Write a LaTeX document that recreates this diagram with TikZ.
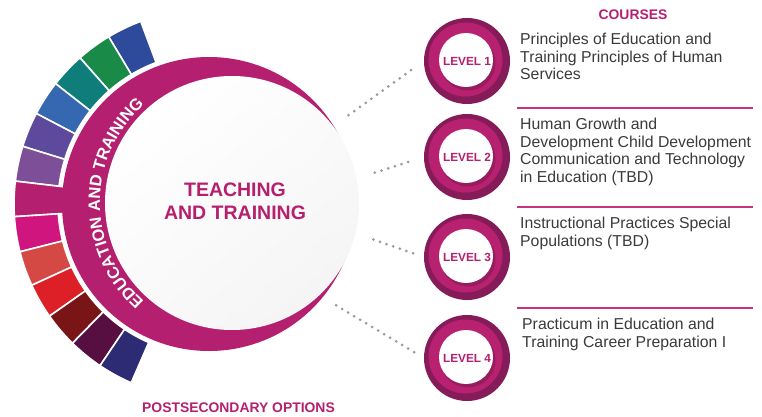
\documentclass[tikz,border=0pt]{standalone}
\usepackage{fontspec}
\setmainfont{Liberation Sans}
\usetikzlibrary{decorations.text}

\definecolor{edumag}{HTML}{B51F6F}
\definecolor{lvdark}{HTML}{861B5A}
\definecolor{lvmid}{HTML}{B8216F}
\definecolor{dotgray}{HTML}{9A9A9A}
\definecolor{txtgray}{HTML}{3A3A3A}
\definecolor{rulemag}{HTML}{C8337D}
\definecolor{seg1}{HTML}{2E4A9B}
\definecolor{seg2}{HTML}{1A8A48}
\definecolor{seg3}{HTML}{0F7E7B}
\definecolor{seg4}{HTML}{3668B2}
\definecolor{seg5}{HTML}{5E4A9D}
\definecolor{seg6}{HTML}{7D4F99}
\definecolor{seg7}{HTML}{B51F6F}
\definecolor{seg8}{HTML}{D0167E}
\definecolor{seg9}{HTML}{D54944}
\definecolor{seg10}{HTML}{DD2027}
\definecolor{seg11}{HTML}{7A1517}
\definecolor{seg12}{HTML}{560F40}
\definecolor{seg13}{HTML}{2C2B73}

\tikzset{
  lvring/.style={circle, minimum size=86pt, inner sep=0pt, fill=lvdark,
    font=\bfseries\fontsize{11.8}{13}\selectfont, text=edumag,
    path picture={
      \fill[lvmid] ([shift={(-1.5,1.5)}]path picture bounding box.center) circle (37);
      \fill[lvdark!80!black, opacity=.45] ([shift={(1,-2)}]path picture bounding box.center) circle (27.5);
      \fill[white] ([shift={(-1,1)}]path picture bounding box.center) circle (27);
    }},
  course/.style={anchor=north west, align=left, inner sep=0pt,
    font=\fontsize{15.8}{17.5}\selectfont, text=txtgray},
  dotline/.style={draw=dotgray, line width=3pt, line cap=round,
    dash pattern=on 0pt off 7pt, shorten >=10pt},
  sepline/.style={draw=rulemag, line width=1.4pt},
  heading/.style={font=\bfseries\fontsize{13.9}{16}\selectfont, text=edumag}
}

\begin{document}
\begin{tikzpicture}[x=1pt,y=1pt]
\useasboundingbox (0,0) rectangle (762,416);

%Shape: colour arc
\foreach \k in {1,...,13}{
  \pgfmathsetmacro\sa{110.5+(\k-1)*10.46}
  \pgfmathsetmacro\sb{\sa+10.46}
  \ifnum\k=7 \def\rin{144}\else\def\rin{151}\fi
  \filldraw[fill=seg\k, draw=white, line width=1.6pt]
    ([shift={(209,212)}]\sa:\rin) arc[start angle=\sa, end angle=\sb, radius=\rin]
    -- ([shift={(209,212)}]\sb:195) arc[start angle=\sb, end angle=\sa, radius=195] -- cycle;
}

%Shape: magenta band
\fill[edumag] (209,212) circle (147);
%Shape: white hub
\node[circle, minimum size=254pt, inner sep=0pt, shade, top color=white,
  bottom color=black!4, shading angle=40] (hub) at (232,213) {};

% Text along the band
\path[decorate, decoration={text along path, text align=center, text color=white,
    text={|\bfseries\fontsize{16.5}{18}\selectfont|EDUCATION AND TRAINING}}]
  ([shift={(236:132)}]hub.center) arc[start angle=236, end angle=124, radius=132];

% Text Node
\node[font=\bfseries\fontsize{19.5}{23}\selectfont, text=edumag, align=center]
  (title) at (235,215) {TEACHING\\AND TRAINING};
% Text Node
\node[heading] (courses) at (633,401) {COURSES};
% Text Node
\node[heading] (postsec) at (238.5,8) {POSTSECONDARY OPTIONS};

%Shape: level circles
\foreach \i/\y in {1/355,2/259,3/159,4/58}
  \node[lvring] (lv\i) at (467,\y) {LEVEL \i};

% dotted links
\foreach \i/\a in {1/37,2/12,3/-14.5,4/-44.5}{
  \coordinate (s\i) at ([shift={(\a:146)}]hub.center);
  \draw[dotline] (s\i) -- (lv\i.west);
}

%Shape: rules
\draw[sepline] (517,308) -- (753,308);
\draw[sepline] (517,209) -- (753,209);
\draw[sepline] (517,108) -- (753,108);

% Text Node
\node[course] (c1) at (520,383) {Principles of Education and\\Training Principles of Human\\Services};
% Text Node
\node[course] (c2) at (520,298) {Human Growth and\\Development Child Development\\Communication and Technology\\in Education (TBD)};
% Text Node
\node[course] (c3) at (520,199) {Instructional Practices Special\\Populations (TBD)};
% Text Node
\node[course] (c4) at (522,98) {Practicum in Education and\\Training Career Preparation I};

\end{tikzpicture}
\end{document}
